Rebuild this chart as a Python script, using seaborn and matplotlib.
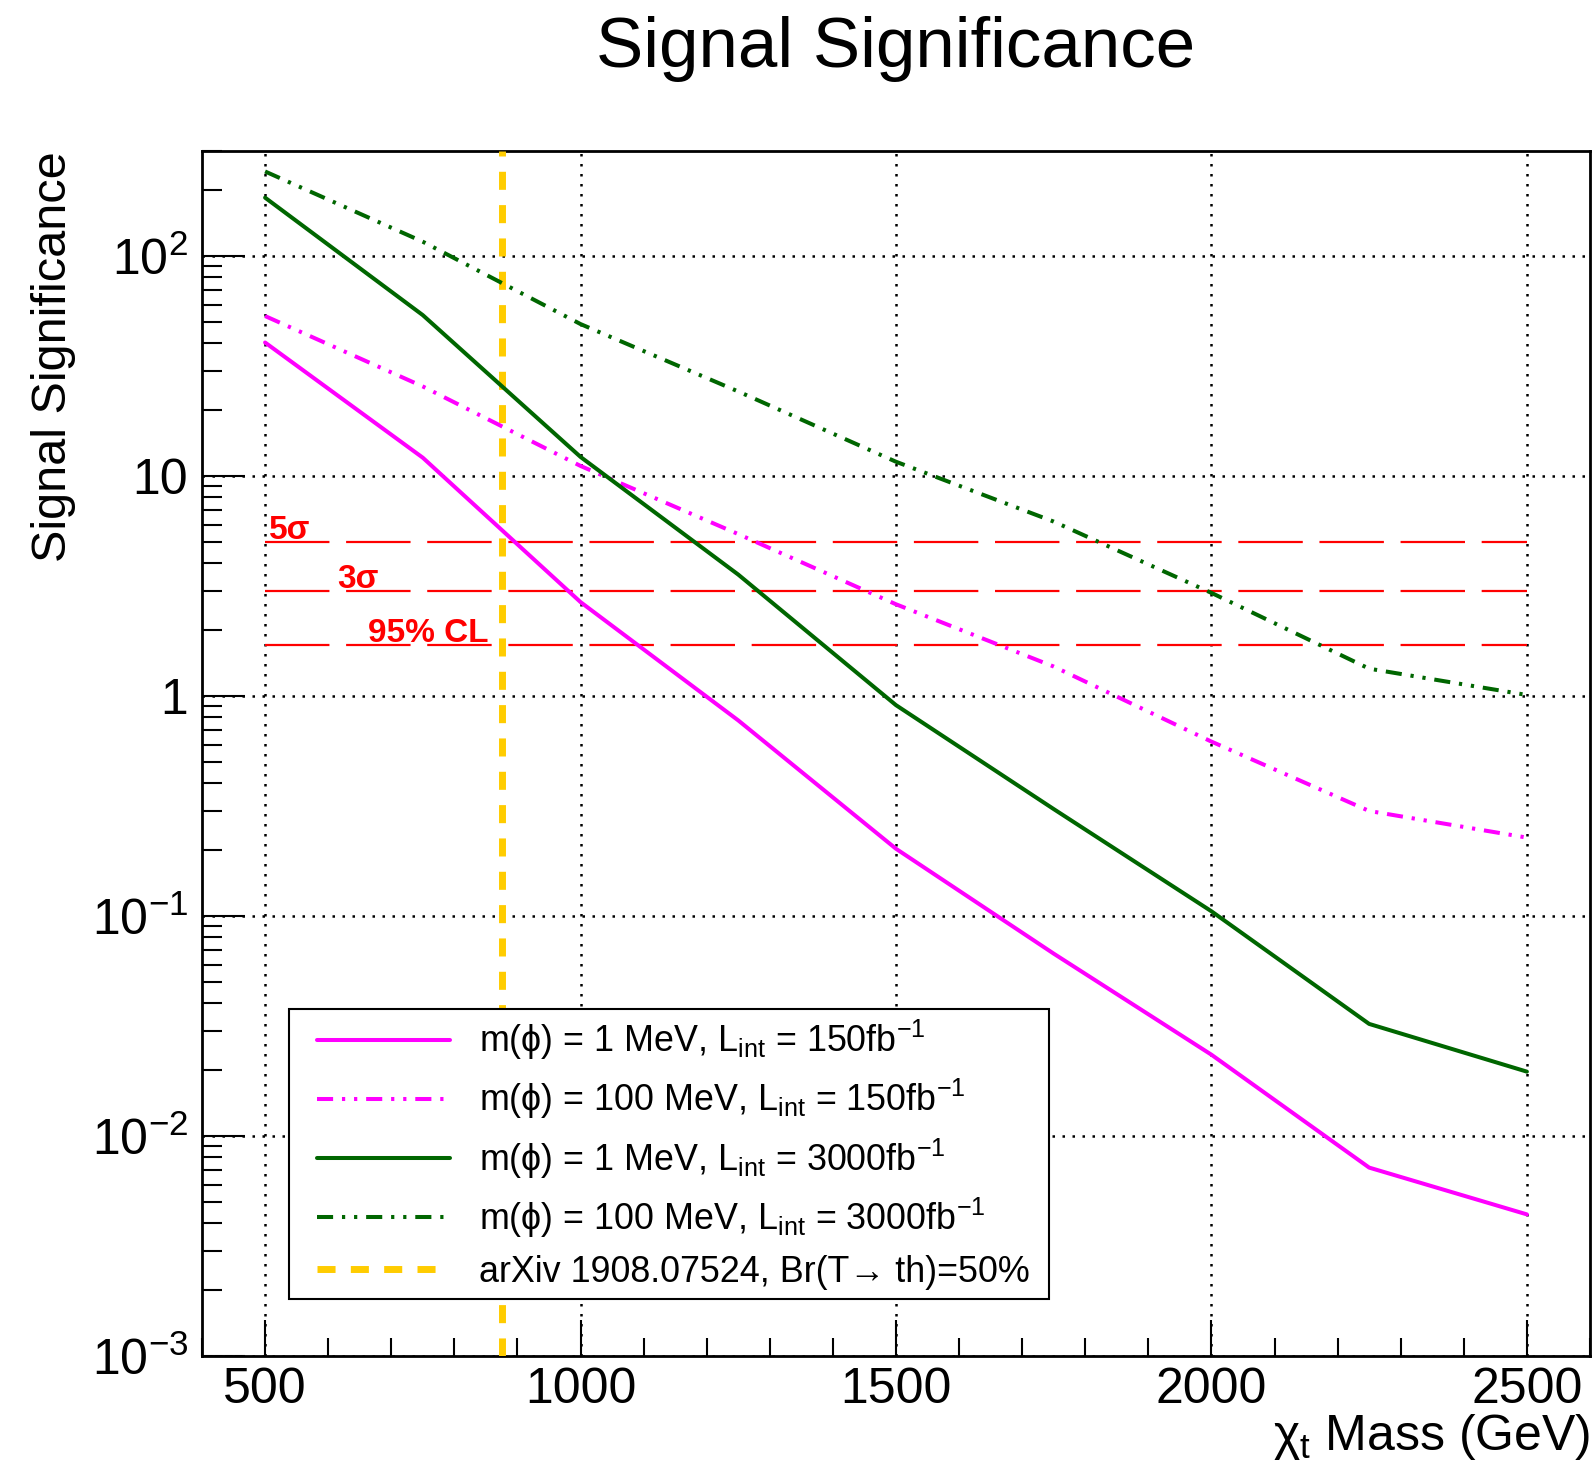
import numpy as np
import pandas as pd
import matplotlib
matplotlib.use("Agg")
import matplotlib.pyplot as plt
from matplotlib.ticker import FixedLocator, MultipleLocator, LogLocator, FuncFormatter, NullFormatter
from matplotlib.legend_handler import HandlerLine2D
import seaborn as sns

sns.set_theme(style="ticks")
plt.rcParams['font.family'] = ['Liberation Sans', 'DejaVu Sans']
plt.rcParams['mathtext.fontset'] = 'custom'
plt.rcParams['mathtext.rm'] = 'Liberation Sans'
plt.rcParams['mathtext.default'] = 'regular'
for k in ['text.color', 'axes.labelcolor', 'xtick.color', 'ytick.color']:
    plt.rcParams[k] = 'black'

# values
mass = [500, 750, 1000, 1250, 1500, 1750, 2000, 2250, 2500]
sig_1mev_150 = [40.4, 12.1, 2.67, 0.774, 0.202, 0.0674, 0.0234, 0.00718, 0.0044]
sig_100mev_150 = [53.3, 25.5, 11.1, 5.44, 2.61, 1.36, 0.62, 0.30, 0.227]
sig_1mev_3000 = [184, 53.8, 12.2, 3.56, 0.908, 0.306, 0.105, 0.0323, 0.0196]
sig_100mev_3000 = [242, 116, 49, 24.2, 11.6, 6.2, 2.94, 1.33, 1.01]

labels = [r"m(ϕ) = 1 MeV, L$_{int}$ = 150fb$^{-1}$",
          r"m(ϕ) = 100 MeV, L$_{int}$ = 150fb$^{-1}$",
          r"m(ϕ) = 1 MeV, L$_{int}$ = 3000fb$^{-1}$",
          r"m(ϕ) = 100 MeV, L$_{int}$ = 3000fb$^{-1}$"]
ref_label = "arXiv 1908.07524, Br(T→ th)=50%"
ref_mass = 875

sigma_x = [500, 2500]
sigma_levels = [5, 3, 1.7]
sigma_names = ["5σ", "3σ", "95% CL"]
sigma_text_x = [506, 614, 663]

df = pd.DataFrame({'mass': mass * 4,
                   'sig': sig_1mev_150 + sig_100mev_150 + sig_1mev_3000 + sig_100mev_3000,
                   'series': np.repeat(labels, len(mass))})

magenta = '#FF00FF'
green = '#006600'
dashdotdot = (0, (4.0, 2.2, 0.8, 2.2, 0.8, 2.2))
styles = {labels[0]: (magenta, '-'),
          labels[1]: (magenta, dashdotdot),
          labels[2]: (green, '-'),
          labels[3]: (green, dashdotdot)}

fig = plt.figure(figsize=(15.93, 14.64), dpi=100)
ax = fig.add_axes([0.1268, 0.0738, 0.8713, 0.8231])

# red significance reference lines
for lvl, name, tx in zip(sigma_levels, sigma_names, sigma_text_x):
    sns.lineplot(x=sigma_x, y=[lvl, lvl], ax=ax, color='#FF0000', lw=1.6,
                 linestyle=(0, (29, 7.5)), zorder=2)
    ax.text(tx, lvl * 1.03, name, color='#FF0000', fontsize=24,
            fontweight='bold', ha='left', va='baseline', zorder=3)

handles = []
for lab in labels:
    col, ls = styles[lab]
    sns.lineplot(data=df[df['series'] == lab], x='mass', y='sig', ax=ax,
                 color=col, lw=2.9, linestyle=ls, zorder=4)
    handles.append(ax.lines[-1])

vl = ax.axvline(ref_mass, color='#FFCC00', lw=5, linestyle=(0, (2.6, 2.2)), zorder=3)
handles.append(vl)

ax.set_yscale('log')
ax.set_xlim(400, 2600)
ax.set_ylim(1e-3, 300)

ax.xaxis.set_major_locator(FixedLocator([500, 1000, 1500, 2000, 2500]))
ax.xaxis.set_minor_locator(MultipleLocator(100))
ax.yaxis.set_major_locator(LogLocator(base=10, numticks=20))
ax.yaxis.set_minor_locator(LogLocator(base=10, subs=np.arange(2, 10), numticks=20))
ax.yaxis.set_minor_formatter(NullFormatter())


def yfmt(v, pos):
    e = int(round(np.log10(v)))
    if e == 0:
        return "1"
    if e == 1:
        return "10"
    return r"$10^{%d}$" % e


ax.yaxis.set_major_formatter(FuncFormatter(yfmt))

ax.grid(True, which='major', color='black', lw=1.8, linestyle=(0, (1, 3)))
for sp in ax.spines.values():
    sp.set_linewidth(2)
    sp.set_color('black')

ax.tick_params(axis='x', which='major', direction='in', length=26, width=1.5,
               labelsize=36, pad=8, top=False)
ax.tick_params(axis='x', which='minor', direction='in', length=13, width=1.5, top=False)
ax.tick_params(axis='y', which='major', direction='in', length=31, width=1.5,
               labelsize=36, pad=10, right=False)
ax.tick_params(axis='y', which='minor', direction='in', length=14.5, width=1.5, right=False)

ax.set_xlabel(r"χ$_{t}$ Mass (GeV)", fontsize=36, loc='right', labelpad=-1)
ax.set_ylabel("Signal Significance", fontsize=35, loc='top', labelpad=11)

fig.text(0.5625, 0.9665, "Signal Significance", fontsize=51, ha='center', va='center')

# shift the legend handles right so they sit inside the box like the reference
shift = HandlerLine2D(xpad=0.53)
leg = ax.legend(handles, labels + [ref_label], loc='upper left',
                bbox_to_anchor=(0.063, 0.288, 0.547, 0.0), mode='expand',
                fontsize=25.8, frameon=True, fancybox=False, framealpha=1,
                edgecolor='black', handlelength=4.22, handletextpad=0.81,
                labelspacing=0.42, borderpad=0.25, borderaxespad=0,
                handler_map={h: shift for h in handles})
leg.get_frame().set_linewidth(1.5)
leg.set_zorder(5)

fig.savefig('out.png', dpi=100)
